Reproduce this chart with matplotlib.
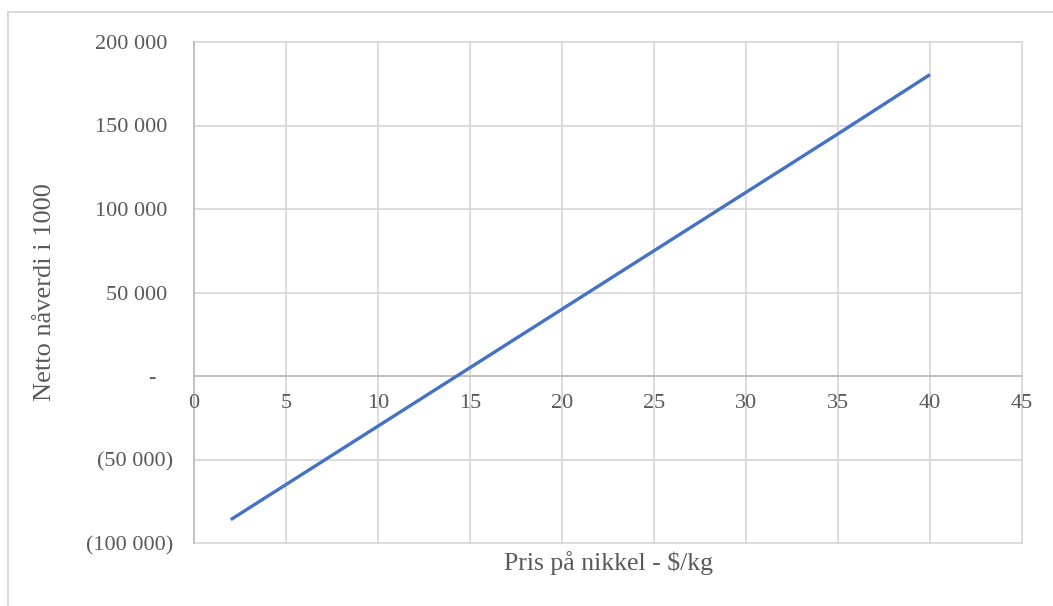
import matplotlib
matplotlib.use("Agg")
import matplotlib.pyplot as plt
from matplotlib.ticker import FuncFormatter, MultipleLocator
from matplotlib.patches import Rectangle

price = [2, 5, 10, 15, 20, 25, 30, 35, 40]
npv = [-86000, -65000, -30000, 5000, 40000, 75000, 110000, 145000, 180500]
x_label = "Pris på nikkel - $/kg"
y_label = "Netto nåverdi i 1000"

W, H = 1053, 606
fig = plt.figure(figsize=(W / 100, H / 100), dpi=100)
plt.rcParams['font.family'] = ['Liberation Serif', 'DejaVu Serif']
txt = '#595959'

fig.patches.append(Rectangle((8 / W, -0.1), 1.1, 1.1 - 12 / H, transform=fig.transFigure,
                             facecolor='none', edgecolor='#d9d9d9', linewidth=1.5))

ax = fig.add_axes([194 / W, 1 - 543 / H, (1022 - 194) / W, (543 - 42) / H])
ax.plot(price, npv, color='#4472C4', linewidth=2.4, solid_capstyle='butt')
ax.set_xlim(0, 45)
ax.set_ylim(-100000, 200000)
ax.xaxis.set_major_locator(MultipleLocator(5))
ax.yaxis.set_major_locator(MultipleLocator(50000))
ax.grid(True, color='#d9d9d9', linewidth=1.3)
ax.set_axisbelow(True)
for gl in ax.get_xgridlines() + ax.get_ygridlines():
    gl.set_clip_on(False)

for s in ['top', 'right', 'bottom']:
    ax.spines[s].set_visible(False)
ax.spines['left'].set_color('#bfbfbf')
ax.spines['left'].set_linewidth(1.3)
ax.axhline(0, color='#bfbfbf', linewidth=1.3, zorder=1.5)


def yfmt(v, pos):
    if abs(v) < 1:
        return "-   "
    s = f"{abs(int(v)):,}".replace(",", " ")
    return f"({s})" if v < 0 else s + " "


ax.yaxis.set_major_formatter(FuncFormatter(yfmt))
ax.tick_params(axis='y', length=0, pad=15, labelsize=16, labelcolor=txt)
ax.tick_params(axis='x', length=0, labelsize=16, labelcolor=txt)

# x tick labels at the zero line
ax.set_xticks(range(0, 50, 5))
ax.set_xticklabels([])
for xv in range(0, 50, 5):
    ax.annotate(str(xv), xy=(xv, 0), xycoords='data', xytext=(0, -28), textcoords='offset pixels',
                ha='center', va='center', fontsize=16, color=txt, annotation_clip=False)

fig.text(45 / W, 1 - 292 / H, y_label, rotation=90, ha='center', va='center', fontsize=19, color=txt)
fig.text(608 / W, 1 - 563 / H, x_label, ha='center', va='center', fontsize=18.5, color=txt)

fig.savefig("out.png", dpi=100)
